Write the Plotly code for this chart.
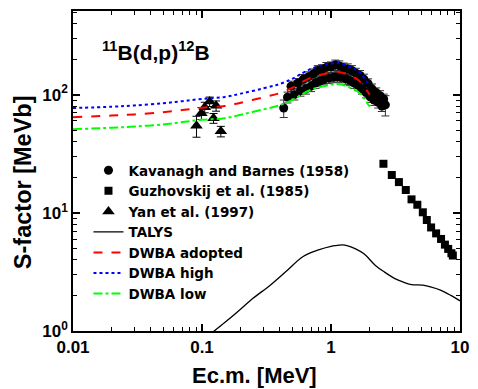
import plotly.graph_objects as go
import numpy as np

# Kavanagh and Barnes (1958)
kb_E = [0.43, 0.46, 0.49, 0.52, 0.55, 0.58, 0.61, 0.64, 0.67, 0.70, 0.73, 0.76, 0.79, 0.82, 0.85,
        0.88, 0.92, 0.96, 1.00, 1.04, 1.08, 1.12, 1.16, 1.20, 1.25, 1.30, 1.35, 1.40, 1.45, 1.50,
        1.56, 1.62, 1.68, 1.74, 1.80, 1.87, 1.94, 2.01, 2.08, 2.16, 2.24, 2.32, 2.40, 2.48, 2.56, 2.64]
kb_S = [77, 95, 118, 100, 125, 108, 135, 112, 142, 118, 150, 126, 160, 130, 163,
        134, 170, 138, 172, 140, 178, 142, 175, 140, 168, 136, 165, 132, 160, 126,
        152, 120, 145, 112, 135, 104, 124, 96, 112, 90, 104, 86, 98, 80, 92, 82]
kb_err = [13, 10, 12, 10, 12, 11, 13, 11, 14, 12, 15, 13, 16, 13, 16,
          13, 17, 14, 17, 14, 18, 14, 18, 14, 17, 14, 17, 13, 16, 13,
          15, 12, 15, 11, 14, 10, 12, 10, 11, 9, 10, 9, 10, 8, 9, 16]

# Guzhovskij et al. (1985)
gz_E = [2.55, 2.96, 3.36, 3.80, 4.21, 4.67, 5.15, 5.53, 5.97, 6.53, 7.13, 7.64, 8.10, 8.58, 8.80]
gz_S = [26.0, 20.9, 18.2, 15.6, 13.0, 11.7, 10.1, 8.69, 7.52, 6.70, 6.01, 5.38, 4.95, 4.55, 4.35]

# Yan et al. (1997)
yan_E = [0.0906, 0.0989, 0.105, 0.1146, 0.1228, 0.1286, 0.140]
yan_S = [54.6, 69.6, 78.2, 87.3, 63.2, 80.4, 48.9]
yan_err = [11, 8, 8, 8, 6, 8, 5]

# TALYS
ta_E = [0.12, 0.15, 0.188, 0.25, 0.338, 0.45, 0.608, 0.8, 1.0, 1.09, 1.23, 1.35, 1.55, 1.8,
        2.21, 2.6, 3.13, 3.6, 4.2, 5.15, 6.0, 7.13, 8.5, 10.0]
ta_S = [0.97, 1.18, 1.45, 1.9, 2.44, 3.2, 4.27, 4.85, 5.2, 5.28, 5.35, 5.25, 4.95, 4.5,
        3.59, 3.15, 2.77, 2.6, 2.47, 2.44, 2.35, 2.21, 2.0, 1.80]

# DWBA
dw_E = [0.01, 0.02, 0.03, 0.05, 0.07, 0.1, 0.15, 0.2, 0.3, 0.4, 0.5, 0.6, 0.7, 0.8, 0.9,
        1.0, 1.1, 1.2, 1.3, 1.4, 1.5, 1.6, 1.7, 1.8, 1.9, 2.0]
dw_adopted = [64.5, 66.5, 68, 71, 74, 77.5, 80, 85.5, 95, 103, 114, 128, 139, 146, 150,
              154, 156, 154, 150, 145, 140, 135, 127, 118, 108, 100]
dw_high = [77, 79, 81, 84.5, 88, 92, 95.5, 102, 113, 123, 136, 152, 165, 174, 179,
           183, 186, 183, 178, 172, 166, 160, 151, 140, 128, 119]
dw_low = [51, 52.5, 53.7, 56, 58.5, 61.2, 63.2, 67.6, 75, 81.4, 90, 101, 110, 115, 118.5,
          121.7, 123, 121.7, 118.5, 114.5, 110.6, 106.7, 100.3, 93.2, 85.3, 79]

fig = go.Figure()
fig.add_trace(go.Scatter(x=kb_E, y=kb_S, mode="markers", name="Kavanagh and Barnes (1958)",
                         marker=dict(symbol="circle", size=9, color="black"),
                         error_y=dict(type="data", array=kb_err, color="#333333", thickness=1, width=4)))
fig.add_trace(go.Scatter(x=gz_E, y=gz_S, mode="markers", name="Guzhovskij et al. (1985)",
                         marker=dict(symbol="square", size=8, color="black")))
fig.add_trace(go.Scatter(x=yan_E, y=yan_S, mode="markers", name="Yan et al. (1997)",
                         marker=dict(symbol="triangle-up", size=11, color="black"),
                         error_y=dict(type="data", array=yan_err, color="black", thickness=1, width=4)))
fig.add_trace(go.Scatter(x=ta_E, y=ta_S, mode="lines", name="TALYS",
                         line=dict(color="black", width=1.3, shape="spline")))
fig.add_trace(go.Scatter(x=dw_E, y=dw_adopted, mode="lines", name="DWBA adopted",
                         line=dict(color="#ff0000", width=2, dash="dash", shape="spline")))
fig.add_trace(go.Scatter(x=dw_E, y=dw_high, mode="lines", name="DWBA high",
                         line=dict(color="#0000ff", width=2, dash="dot", shape="spline")))
fig.add_trace(go.Scatter(x=dw_E, y=dw_low, mode="lines", name="DWBA low",
                         line=dict(color="#00ff00", width=2, dash="dashdot", shape="spline")))

def minor_vals(lo, hi):
    v = []
    for d in range(lo, hi):
        for m in range(2, 10):
            v.append(m * 10.0 ** d)
    return v

font_family = "Liberation Sans, Arial, sans-serif"
fig.update_layout(
    width=478, height=389,
    margin=dict(l=73, r=12, t=9, b=58),
    paper_bgcolor="white", plot_bgcolor="white",
    font=dict(family=font_family, size=14, color="black", weight="bold"),
    showlegend=True,
    legend=dict(x=0.04, y=0.55, xanchor="left", yanchor="top", bgcolor="rgba(0,0,0,0)",
                font=dict(size=13.5, family="DejaVu Sans, sans-serif", weight="bold"), tracegroupgap=0,
                itemsizing="trace"),
    xaxis=dict(type="log", range=[-2, 1], showline=True, linecolor="black", linewidth=1.5,
               mirror="ticks", ticks="inside", ticklen=7, tickwidth=1.5, tickcolor="black",
               tickvals=[0.01, 0.1, 1, 10], ticktext=["0.01", "0.1", "1", "10"],
               tickfont=dict(size=17), showgrid=False, zeroline=False,
               minor=dict(tickvals=minor_vals(-2, 1), ticks="inside", ticklen=4, tickwidth=1,
                          tickcolor="black", showgrid=False)),
    yaxis=dict(type="log", range=[0, np.log10(510)], showline=True, linecolor="black", linewidth=1.5,
               mirror="ticks", ticks="inside", ticklen=7, tickwidth=1.5, tickcolor="black",
               tickvals=[1, 10, 100], ticktext=["10<sup>0</sup>", "10<sup>1</sup>", "10<sup>2</sup>"],
               tickfont=dict(size=17), showgrid=False, zeroline=False,
               minor=dict(tickvals=minor_vals(0, 3), ticks="inside", ticklen=4, tickwidth=1,
                          tickcolor="black", showgrid=False)),
    annotations=[
        dict(text="<sup>11</sup>B(d,p)<sup>12</sup>B", xref="paper", yref="paper",
             x=0.07, y=0.875, xanchor="left", yanchor="middle", showarrow=False,
             font=dict(size=21, family=font_family, weight="bold")),
        dict(text="Ec.m. [MeV]", xref="paper", yref="paper", x=0.468, y=-0.14,
             xanchor="center", yanchor="middle", showarrow=False,
             font=dict(size=22, family=font_family, weight="bold")),
        dict(text="S-factor [MeVb]", xref="paper", yref="paper", x=-0.1285, y=0.466,
             xanchor="center", yanchor="middle", showarrow=False, textangle=-90,
             font=dict(size=23.5, family=font_family, weight="bold")),
    ],
)

fig.write_html("out.html")
